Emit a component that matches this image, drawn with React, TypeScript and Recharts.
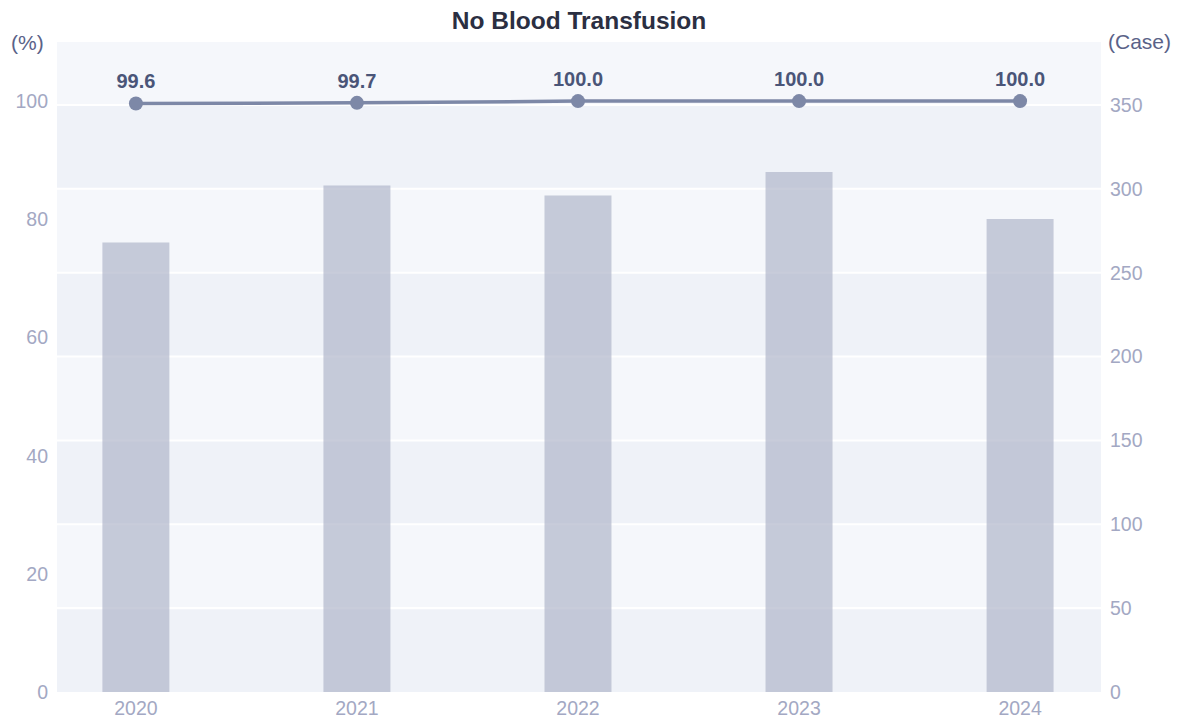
import React from 'react';
import {
  ComposedChart,
  Bar,
  Line,
  XAxis,
  YAxis,
  ReferenceArea,
  LabelList,
} from 'recharts';

const years = [2020, 2021, 2022, 2023, 2024];
const cases = [268, 302, 296, 310, 282];
const rates = [99.6, 99.7, 100.0, 100.0, 100.0];
const pctTicks = [0, 20, 40, 60, 80, 100];
const caseTicks = [0, 50, 100, 150, 200, 250, 300, 350];

const pctMax = 110;
const caseMax = 387.5;

const data = years.map((year, i) => ({ year, cases: cases[i], rate: rates[i] }));

// stripes between the case ticks, top one runs to the axis max
const bands = caseTicks.map((t, i) => ({
  from: t,
  to: i < caseTicks.length - 1 ? caseTicks[i + 1] : caseMax,
  dark: i % 2 === 0,
}));

const font = '"Liberation Sans", Arial, sans-serif';
const tickStyle = { fill: '#a3a8c3', fontSize: 19.5, fontFamily: font };

const App: React.FC = () => {
  return (
    <div style={{ position: 'absolute', left: 0, top: 0, width: 1181, height: 722, fontFamily: font }}>
      <div
        style={{
          position: 'absolute',
          left: 57,
          width: 1044,
          top: 7,
          textAlign: 'center',
          fontSize: 24.5,
          fontWeight: 'bold',
          color: '#2b2f42',
        }}
      >
        No Blood Transfusion
      </div>
      <div style={{ position: 'absolute', left: 11, top: 31, fontSize: 21, color: '#5a6288' }}>(%)</div>
      <div style={{ position: 'absolute', left: 1108, top: 30, fontSize: 21, color: '#5a6288' }}>(Case)</div>
      <ComposedChart
        width={1181}
        height={722}
        data={data}
        margin={{ top: 42, right: 0, left: 0, bottom: 0 }}
      >
        <XAxis
          dataKey='year'
          type='number'
          domain={[2019.643, 2024.366]}
          ticks={years}
          allowDataOverflow
          axisLine={false}
          tickLine={false}
          tick={tickStyle}
          height={30}
          tickMargin={3}
        />
        <YAxis
          yAxisId='left'
          domain={[0, pctMax]}
          ticks={pctTicks}
          axisLine={false}
          tickLine={false}
          tick={tickStyle}
          width={57}
          tickMargin={3}
        />
        <YAxis
          yAxisId='right'
          orientation='right'
          domain={[0, caseMax]}
          ticks={caseTicks}
          axisLine={false}
          tickLine={false}
          tick={tickStyle}
          width={80}
          tickMargin={3}
        />
        {bands.map((b) => (
          <ReferenceArea
            key={b.from}
            yAxisId='right'
            y1={b.from}
            y2={b.to}
            fill={b.dark ? '#eff2f8' : '#f5f7fb'}
            fillOpacity={1}
            stroke='none'
          />
        ))}
        {/* white grid lines, drawn as thin areas so they stay under the bars */}
        {caseTicks.slice(1).map((t) => (
          <ReferenceArea
            key={'g' + t}
            yAxisId='right'
            y1={t - 0.6}
            y2={t + 0.6}
            fill='#ffffff'
            fillOpacity={1}
            stroke='none'
          />
        ))}
        <Bar
          yAxisId='right'
          dataKey='cases'
          barSize={67}
          fill='#b1b6cb'
          fillOpacity={0.7}
          isAnimationActive={false}
        />
        <Line
          yAxisId='left'
          type='linear'
          dataKey='rate'
          stroke='#7d88a7'
          strokeWidth={3.5}
          dot={{ r: 7, fill: '#7d88a7', stroke: 'none' }}
          activeDot={false}
          isAnimationActive={false}
        >
          <LabelList
            dataKey='rate'
            position='top'
            offset={15}
            formatter={(v: number) => v.toFixed(1)}
            style={{ fill: '#4a5578', fontSize: 20, fontWeight: 'bold', fontFamily: font }}
          />
        </Line>
      </ComposedChart>
    </div>
  );
};

export default App;
